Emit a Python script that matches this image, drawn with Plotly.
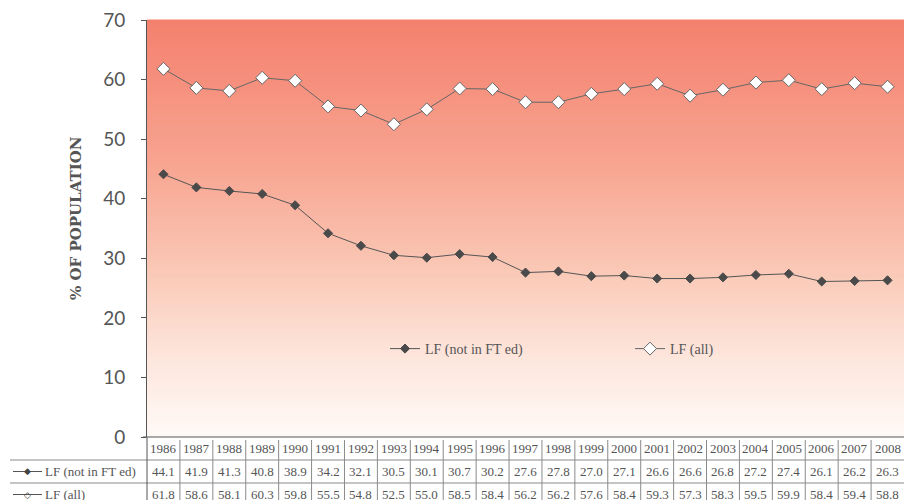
import plotly.graph_objects as go

years = [str(y) for y in range(1986, 2009)]
lf_not_ft = [44.1, 41.9, 41.3, 40.8, 38.9, 34.2, 32.1, 30.5, 30.1, 30.7, 30.2, 27.6,
             27.8, 27.0, 27.1, 26.6, 26.6, 26.8, 27.2, 27.4, 26.1, 26.2, 26.3]
lf_all = [61.8, 58.6, 58.1, 60.3, 59.8, 55.5, 54.8, 52.5, 55.0, 58.5, 58.4, 56.2,
          56.2, 57.6, 58.4, 59.3, 57.3, 58.3, 59.5, 59.9, 58.4, 59.4, 58.8]
series_names = ["LF (not in FT ed)", "LF (all)"]
y_ticks = [0, 10, 20, 30, 40, 50, 60, 70]

W, H = 904, 500
L, R, T = 147, 0, 20
B = H - 437
PW, PH = W - L - R, H - T - B

def px_x(p):
    return (p - L) / PW

def px_y(p):
    return (H - B - p) / PH

xs = list(range(len(years)))
fig = go.Figure()
fig.add_trace(go.Scatter(x=xs, y=lf_not_ft, name=series_names[0], mode="lines+markers",
                         line=dict(color="#555555", width=1),
                         marker=dict(symbol="diamond", size=7, color="#4a4a4a",
                                     line=dict(color="#4a4a4a", width=1))))
fig.add_trace(go.Scatter(x=xs, y=lf_all, name=series_names[1], mode="lines+markers",
                         line=dict(color="#666666", width=1),
                         marker=dict(symbol="diamond", size=10, color="white",
                                     line=dict(color="#666666", width=1))))

shapes = []
stops = [(0.0, (244, 128, 110)), (0.35, (247, 165, 145)), (0.6, (250, 200, 182)),
         (0.8, (253, 228, 218)), (1.0, (255, 250, 247))]
N = 100
for i in range(N):
    t = (i + 0.5) / N
    for k in range(len(stops) - 1):
        if stops[k][0] <= t <= stops[k + 1][0]:
            a, ca = stops[k]
            b, cb = stops[k + 1]
            f = (t - a) / (b - a)
            c = tuple(round(ca[j] + (cb[j] - ca[j]) * f) for j in range(3))
            break
    shapes.append(dict(type="rect", xref="paper", yref="paper", x0=0, x1=1,
                       y0=1 - (i + 1) / N - 0.001, y1=1 - i / N + 0.001,
                       fillcolor="rgb(%d,%d,%d)" % c, line=dict(width=0), layer="below"))

grid = "#8a8a8a"
shapes.append(dict(type="line", xref="paper", yref="paper", x0=px_x(143), x1=1,
                   y0=0, y1=0, line=dict(color="#555555", width=1)))
for p in [460, 483]:
    shapes.append(dict(type="line", xref="paper", yref="paper", x0=px_x(10), x1=1,
                       y0=px_y(p), y1=px_y(p), line=dict(color=grid, width=1)))
shapes.append(dict(type="line", xref="paper", yref="paper", x0=0, x1=0,
                   y0=0, y1=px_y(510), line=dict(color="#555555", width=1)))
for i in range(1, len(years)):
    shapes.append(dict(type="line", xref="x", yref="paper", x0=i - 0.5, x1=i - 0.5,
                       y0=px_y(440), y1=px_y(510), line=dict(color=grid, width=1)))

annotations = []
tfont = dict(family="Liberation Serif", size=13, color="#555555")
rows = [(years, 448.5), ([f"{v:.1f}" for v in lf_not_ft], 471.5),
        ([f"{v:.1f}" for v in lf_all], 494.5)]
for labels, yc in rows:
    for i, lab in enumerate(labels):
        annotations.append(dict(x=i, y=px_y(yc), xref="x", yref="paper", text=lab,
                                showarrow=False, font=tfont, xanchor="center", yanchor="middle"))
for k, (name, yc) in enumerate(zip(series_names, [471.5, 494.5])):
    shapes.append(dict(type="line", xref="paper", yref="paper", x0=px_x(13), x1=px_x(42),
                       y0=px_y(yc), y1=px_y(yc), line=dict(color="#555555", width=1)))
    annotations.append(dict(x=px_x(27.5), y=px_y(yc), xref="paper", yref="paper",
                            text="◆" if k == 0 else "◇", showarrow=False,
                            font=dict(family="DejaVu Sans", size=9, color="#444444"),
                            xanchor="center", yanchor="middle"))
    annotations.append(dict(x=px_x(43), y=px_y(yc), xref="paper", yref="paper", text=name,
                            showarrow=False, font=tfont, xanchor="left", yanchor="middle"))

annotations.append(dict(x=px_x(76), y=px_y(218), xref="paper", yref="paper",
                        text="<b>% OF POPULATION</b>", textangle=-90, showarrow=False,
                        font=dict(family="DejaVu Serif", size=15, color="#555555"),
                        xanchor="center", yanchor="middle"))

fig.update_layout(
    width=W, height=H, margin=dict(l=L, r=R, t=T, b=B, autoexpand=False),
    paper_bgcolor="white", plot_bgcolor="rgba(0,0,0,0)",
    shapes=shapes, annotations=annotations,
    xaxis=dict(range=[-0.5, len(years) - 0.5], showticklabels=False, showgrid=False,
               zeroline=False, showline=False, ticks=""),
    yaxis=dict(range=[0, 70], tickvals=y_ticks, showgrid=False, zeroline=False,
               showline=True, linecolor="#555555", linewidth=1, ticks="outside",
               ticklen=5, tickcolor="#555555", ticklabelstandoff=12,
               ticklabeloverflow="allow",
               tickfont=dict(family="Lato", size=19, color="#555555")),
    legend=dict(orientation="h", x=px_x(385), y=px_y(349), xanchor="left", yanchor="middle",
                bgcolor="rgba(0,0,0,0)", entrywidth=200, entrywidthmode="pixels",
                font=dict(family="Liberation Serif", size=14, color="#555555")),
    showlegend=True,
)

fig.write_html("out.html",
               config={"displayModeBar": False},
               post_script="document.body.style.margin='0';"
                           "document.body.style.overflow='hidden';"
                           "document.documentElement.style.overflow='hidden';")
